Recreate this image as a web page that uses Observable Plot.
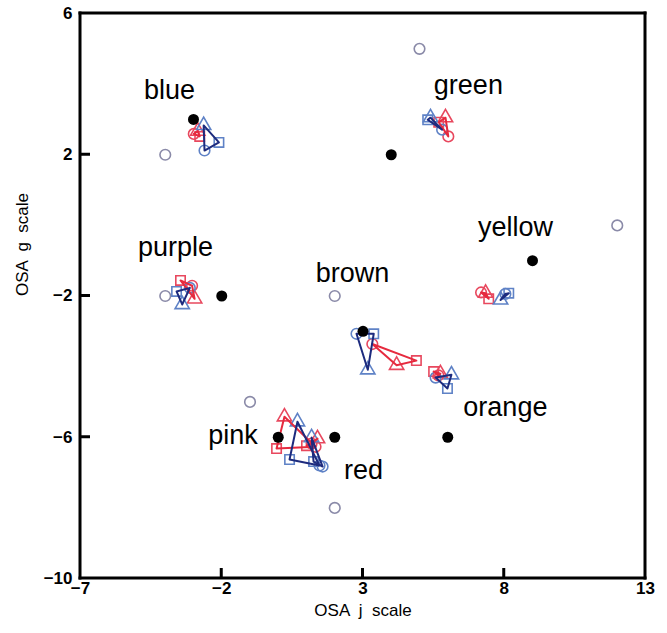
<!DOCTYPE html>
<html><head><meta charset="utf-8">
<script src="https://cdn.jsdelivr.net/npm/d3@7"></script>
<script src="https://cdn.jsdelivr.net/npm/@observablehq/plot@0.6"></script>
<style>body{margin:0;background:#fff;}</style>
</head><body><div id="chart"></div>
<script>
// colour categories
const colorNames = ["blue","green","purple","yellow","brown","orange","pink","red"];
// focal (filled black) points
const focalJ = [-3, 4, -2, 9, 3, 6, 0, 2];
const focalG = [3, 2, -2, -1, -3, -6, -6, -6];
// open grey reference circles (orange has none visible)
const altJ = [-4, 5, -4, 12, 2, null, -1, 2];
const altG = [2, 5, -2, 0, -2, null, -5, -8];
// label anchor positions
const labelJ = [-3.85, 6.73, -3.64, 8.40, 2.63, 8.04, -1.60, 3.02];
const labelG = [3.83, 3.97, -0.61, -0.05, -1.35, -5.16, -5.95, -6.93];
// red group: circle, triangle, square
const redCircleJ = [-2.99, 6.02, -3.05, 7.18, 3.33, 5.67, 1.32, 1.18];
const redCircleG = [2.59, 2.52, -1.71, -1.90, -3.36, -4.25, -6.27, -6.18];
const redTriJ = [-2.85, 5.92, -2.96, 7.34, 4.19, 5.74, 0.22, 1.39];
const redTriG = [2.67, 3.05, -2.08, -1.92, -3.96, -4.20, -5.42, -6.04];
const redSqJ = [-2.78, 5.68, -3.46, 7.45, 4.89, 5.50, -0.06, 1.00];
const redSqG = [2.52, 2.92, -1.56, -2.08, -3.83, -4.14, -6.32, -6.24];
// blue group: circle, triangle, square
const blueCircleJ = [-2.61, 5.80, -3.13, 8.04, 2.77, 5.57, 1.46, 1.57];
const blueCircleG = [2.12, 2.71, -1.77, -1.94, -3.07, -4.31, -6.80, -6.83];
const blueTriJ = [-2.64, 5.39, -3.40, 7.87, 3.17, 6.13, 0.68, 1.18];
const blueTriG = [2.83, 3.05, -2.24, -2.11, -4.09, -4.23, -5.56, -6.01];
const blueSqJ = [-2.10, 5.29, -3.60, 8.16, 3.38, 5.99, 0.40, 1.25];
const blueSqG = [2.35, 2.99, -1.87, -1.92, -3.07, -4.62, -6.63, -6.69];
// tick labels
const jTicks = [-7, -2, 3, 8, 13];
const gTicks = [-10, -6, -2, 2, 6];
const jInner = [-2, 3, 8];
const gInner = [-6, -2, 2];

const RED_MARK = "#e8485e", RED_LINE = "#e62a3e";
const BLUE_MARK = "#5f82c6", BLUE_LINE = "#1d2b7e";

const W = 667, H = 633, ML = 80, MR = 22, MT = 13, MB = 55, TICK = 10, LW = 3;
const xDom = [-7, 13], yDom = [-10, 6];
// pixel sizes expressed in data units (for the frame and inward ticks)
const pxJ = (xDom[1] - xDom[0]) / (W - ML - MR);
const pxG = (yDom[1] - yDom[0]) / (H - MT - MB);
const hJ = LW / 2 * pxJ, hG = LW / 2 * pxG;

const focal = colorNames.map((n, i) => ({name: n, j: focalJ[i], g: focalG[i]}));
const alt = colorNames.map((n, i) => ({name: n, j: altJ[i], g: altG[i]})).filter(d => d.j != null);
const labels = colorNames.map((n, i) => ({name: n, j: labelJ[i], g: labelG[i]}));

function pts(group, shape, J, G) {
  return colorNames.map((n, i) => ({name: n, group, shape, j: J[i], g: G[i]}));
}
const redC = pts("red", "circle", redCircleJ, redCircleG);
const redT = pts("red", "triangle", redTriJ, redTriG);
const redS = pts("red", "square", redSqJ, redSqG);
const blueC = pts("blue", "circle", blueCircleJ, blueCircleG);
const blueT = pts("blue", "triangle", blueTriJ, blueTriG);
const blueS = pts("blue", "square", blueSqJ, blueSqG);

// closed polygons circle -> triangle -> square -> circle
const polys = [];
colorNames.forEach((n, i) => {
  [[redC, redT, redS, "red"], [blueC, blueT, blueS, "blue"]].forEach(([c, t, s, grp]) => {
    [c[i], t[i], s[i], c[i]].forEach(p => polys.push({key: n + "-" + grp, group: grp, j: p.j, g: p.g}));
  });
});

// frame edges and inward ticks as filled bars
const bars = [
  ...xDom.map(v => ({x1: v - hJ, x2: v + hJ, y1: yDom[0] - hG, y2: yDom[1] + hG})),
  ...yDom.map(v => ({x1: xDom[0] - hJ, x2: xDom[1] + hJ, y1: v - hG, y2: v + hG})),
  ...jInner.map(v => ({x1: v - hJ, x2: v + hJ, y1: yDom[0], y2: yDom[0] + TICK * pxG})),
  ...gInner.map(v => ({x1: xDom[0], x2: xDom[0] + TICK * pxJ, y1: v - hG, y2: v + hG}))
];

const dotOpts = (color, symbol) => ({x: "j", y: "g", symbol, r: 5.3, stroke: color, strokeWidth: 1.6, fill: "none"});

const chart = Plot.plot({
  width: W, height: H,
  marginLeft: ML, marginRight: MR, marginTop: MT, marginBottom: MB,
  x: {domain: xDom},
  y: {domain: yDom},
  style: {fontFamily: "'Liberation Sans', Arial, sans-serif", background: "white", color: "black"},
  marks: [
    Plot.axisX({ticks: jTicks, tickSize: 0, tickPadding: 3, fontSize: 17, fontWeight: "bold", label: null}),
    Plot.axisY({ticks: gTicks, tickSize: 0, tickPadding: 8, fontSize: 17, fontWeight: "bold", label: null}),
    Plot.text(["OSA  j  scale"], {frameAnchor: "bottom", dy: 37, fontSize: 17}),
    Plot.text(["OSA  g  scale"], {frameAnchor: "left", dx: -58, rotate: -90, fontSize: 17}),
    Plot.text(labels, {x: "j", y: "g", text: "name", fontSize: 27, fill: "black"}),
    Plot.dot(alt, {x: "j", y: "g", r: 5.3, stroke: "#8a8aa8", strokeWidth: 1.6, fill: "none"}),
    Plot.dot(redC, dotOpts(RED_MARK, "circle")),
    Plot.dot(redT, dotOpts(RED_MARK, "triangle")),
    Plot.dot(redS, dotOpts(RED_MARK, "square")),
    Plot.dot(blueC, dotOpts(BLUE_MARK, "circle")),
    Plot.dot(blueT, dotOpts(BLUE_MARK, "triangle")),
    Plot.dot(blueS, dotOpts(BLUE_MARK, "square")),
    Plot.line(polys.filter(d => d.group === "red"), {x: "j", y: "g", z: "key", stroke: RED_LINE, strokeWidth: 2}),
    Plot.line(polys.filter(d => d.group === "blue"), {x: "j", y: "g", z: "key", stroke: BLUE_LINE, strokeWidth: 2}),
    Plot.dot(focal, {x: "j", y: "g", r: 5.5, fill: "black"}),
    Plot.rect(bars, {x1: "x1", x2: "x2", y1: "y1", y2: "y2", fill: "black"})
  ]
});
document.getElementById("chart").appendChild(chart);
</script>
</body></html>
